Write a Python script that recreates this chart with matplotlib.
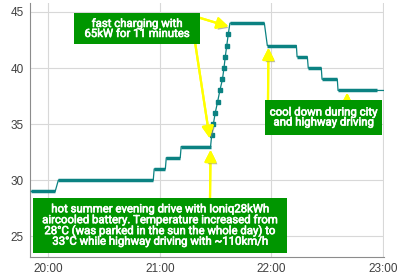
import matplotlib
matplotlib.use("Agg")
import matplotlib.pyplot as plt
import matplotlib.dates as mdates
import matplotlib.patheffects as pe
import pandas as pd

# readings: minutes after 20:00 and battery temperature (degC)
minutes = [-9.0, 3.8, 5.5, 56.5, 57.0, 63.0, 63.5, 71.0, 71.5, 87.3,
           87.9, 88.8, 89.8, 91.1, 92.3, 93.7, 94.5, 95.2, 96.0, 96.8, 97.7,
           116.2, 117.8, 133.4, 133.8, 139.3, 139.8, 146.8, 147.2, 155.4, 155.8,
           176.8, 180.5]
temps = [29, 29, 30, 30, 31, 31, 32, 32, 33, 33,
         34, 35, 36, 37, 38, 39, 40, 41, 42, 43, 44,
         44, 42, 42, 41, 41, 40, 40, 39, 39, 38,
         38, 38]

y_ticks = [25, 30, 35, 40, 45]
x_ticks = ["20:00", "21:00", "22:00", "23:00"]

note_charge = "fast charging with\n65kW for 11 minutes"
note_cool = "cool down during city\nand highway driving"
note_drive = ("hot summer evening drive with Ioniq28kWh\n"
              "aircooled battery. Temperature increased from\n"
              "28\u00b0C (was parked in the sun the whole day) to\n"
              "33\u00b0C while highway driving with ~110km/h")

base = pd.Timestamp("2018-07-01 20:00")
times = base + pd.to_timedelta(minutes, unit="min")

plt.rcParams["font.family"] = ["Liberation Sans", "DejaVu Sans"]

W, H = 400, 278
fig = plt.figure(figsize=(W / 100, H / 100), dpi=100)
ax = fig.add_axes([29.5 / W, 1 - 257 / H, (384 - 29.5) / W, (257 - 3) / H])

teal = "#0b8282"
ax.plot(times, temps, color=teal, linewidth=0.9, zorder=3)
# plateaus with dense readings look thick
for i in range(len(temps) - 2):
    if temps[i] == temps[i + 1]:
        ax.plot(times[i:i + 2], temps[i:i + 2], color=teal, linewidth=2.5,
                solid_capstyle="butt", zorder=3)
# single readings during charging
ramp = [i for i in range(1, len(temps) - 1)
        if temps[i] != temps[i - 1] and temps[i] != temps[i + 1]]
ax.plot([times[i] for i in ramp], [temps[i] for i in ramp], "s", color=teal,
        markersize=2.4, zorder=4)

ax.set_ylim(23.15, 45.8)
ax.set_xlim(base + pd.Timedelta(minutes=-10), base + pd.Timedelta(minutes=180.5))
ax.set_yticks(y_ticks)
ax.set_xticks([pd.Timestamp(f"2018-07-01 {t}") for t in x_ticks])
ax.xaxis.set_major_formatter(mdates.DateFormatter("%H:%M"))
ax.grid(color="#d8d8d8", linewidth=0.8)
ax.set_axisbelow(True)
for s in ["top", "right"]:
    ax.spines[s].set_visible(False)
for s in ["left", "bottom"]:
    ax.spines[s].set_color("#8c8c8c")
ax.tick_params(length=0, labelsize=8.5, labelcolor="#404040", pad=4)


def box(cx, cy, w, h, text):
    fig.patches.append(plt.Rectangle(((cx - w / 2) / W, 1 - (cy + h / 2) / H), w / W, h / H,
                                     transform=fig.transFigure, facecolor="#009600",
                                     edgecolor="none", zorder=5))
    fig.text(cx / W, 1 - cy / H, text, ha="center", va="center", color="white",
             fontsize=8.2, family=["Roboto", "DejaVu Sans"], linespacing=1.0, zorder=6,
             path_effects=[pe.withStroke(linewidth=0.45, foreground="white")])


box(137, 28.5, 126, 31, note_charge)
box(323.5, 117.5, 117, 35, note_cool)
box(160, 225.5, 254, 55, note_drive)

arrows = [((197, 17), (97.0, 43.7)),
          ((195, 42), (86.8, 33.75)),
          ((210, 199), (87.3, 32.7)),
          ((268, 100), (118.4, 41.8)),
          ((347, 101), (160.7, 37.8))]
for (px, py), (mx, ty) in arrows:
    ax.annotate("", xy=(base + pd.Timedelta(minutes=mx), ty),
                xytext=(px, H - py), textcoords="figure pixels",
                arrowprops=dict(arrowstyle="-|>,head_length=0.7,head_width=0.35",
                                color="#ffff00", linewidth=1.6, shrinkA=0, shrinkB=0,
                                path_effects=[pe.withSimplePatchShadow(offset=(1.5, -1.5),
                                                                       shadow_rgbFace="#808080",
                                                                       alpha=0.6),
                                              pe.Normal()]),
                zorder=7, annotation_clip=False)

fig.savefig("out.png", dpi=100)
